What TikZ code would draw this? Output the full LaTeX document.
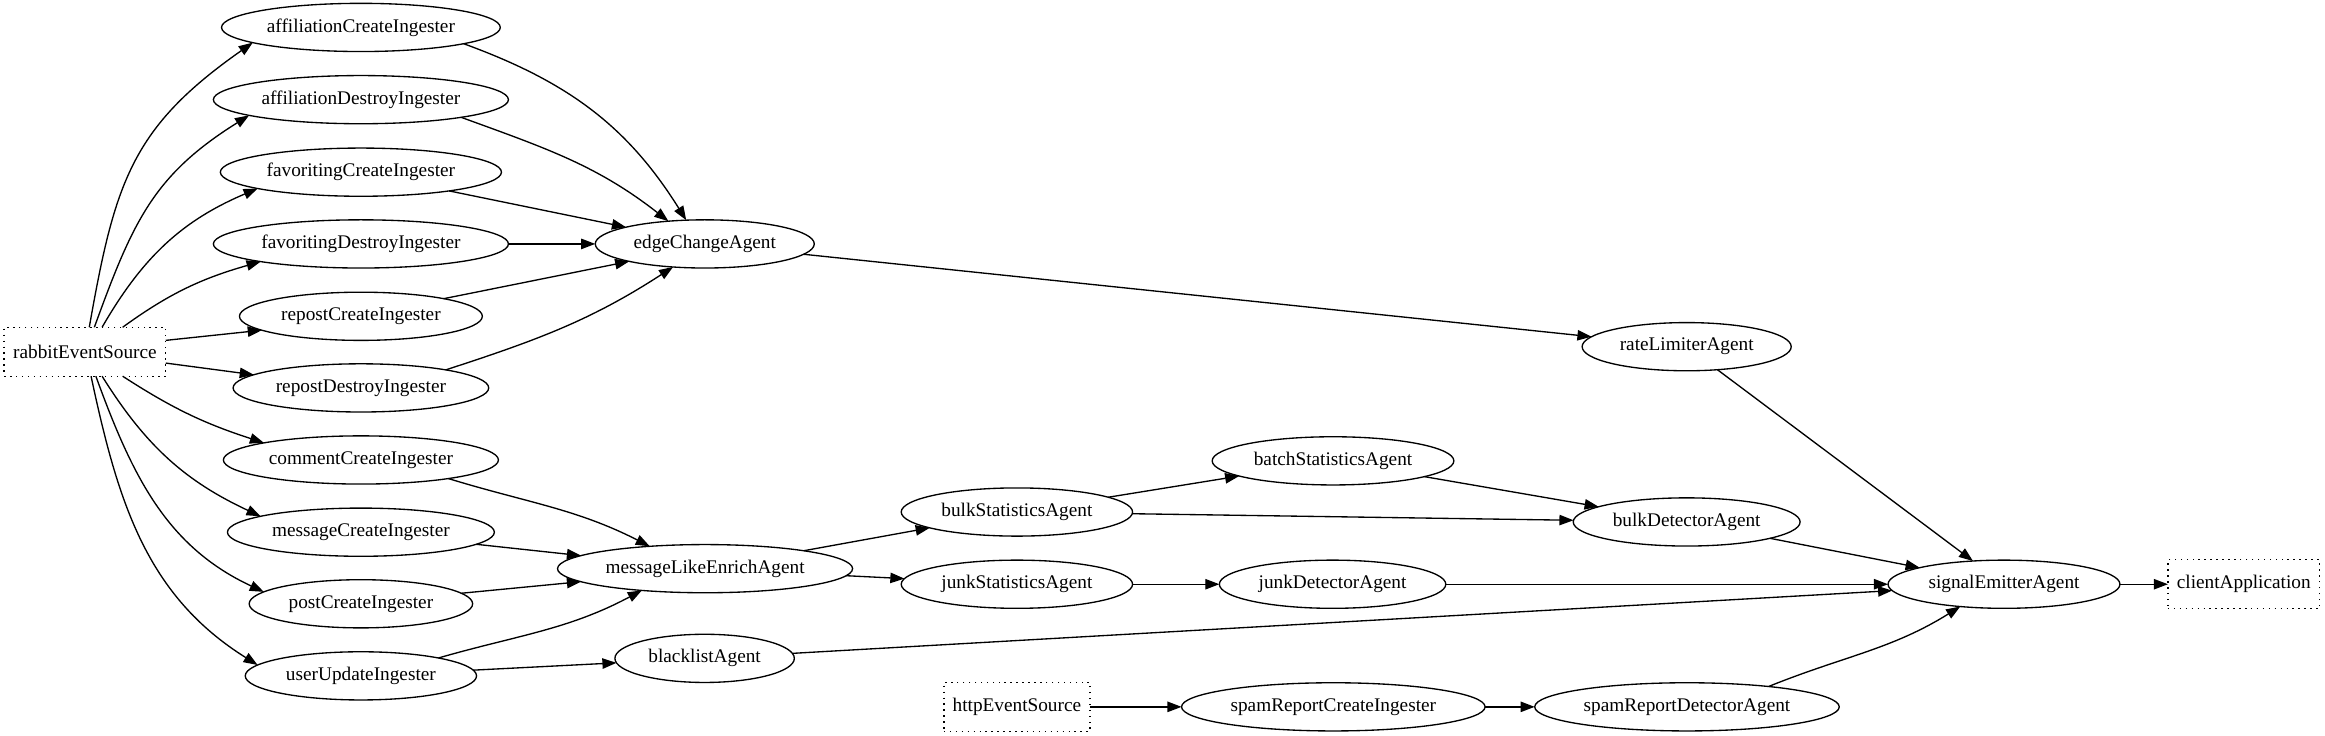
\documentclass[tikz,border=0pt]{standalone}
\usepackage{fontspec}
\setmainfont{Liberation Serif}
\usetikzlibrary{shapes.geometric,arrows.meta}
\begin{document}
\begin{tikzpicture}[x=1pt,y=1pt,
 every node/.style={font=\fontsize{13}{15}\selectfont, inner sep=0pt, outer sep=0pt},
 agent/.style={draw, ellipse, line width=0.9pt, minimum height=32.5pt},
 srcbox/.style={draw, rectangle, line width=0.9pt, dash pattern=on 1pt off 3pt, minimum height=33pt},
 edge/.style={line width=0.9pt, -{Triangle[length=9.5pt,width=7pt]}},
]
\useasboundingbox (0,0) rectangle (1568,-496);

% sources
\node[srcbox, minimum width=109pt] (rabbit) at (57.3,-237.2) {rabbitEventSource};
\node[srcbox, minimum width=98.4pt] (http) at (685.8,-476.7) {httpEventSource};
\node[srcbox, minimum width=102.3pt] (cla) at (1513.2,-394) {clientApplication};

% ingesters
\node[agent, minimum width=188pt] (ace) at (243.4,-18.5) {affiliationCreateIngester};
\node[agent, minimum width=199pt] (ade) at (243.4,-67.2) {affiliationDestroyIngester};
\node[agent, minimum width=189.6pt] (fci) at (243.4,-116.1) {favoritingCreateIngester};
\node[agent, minimum width=199pt] (fdi) at (243.4,-164.5) {favoritingDestroyIngester};
\node[agent, minimum width=163.8pt] (rci) at (243.4,-213.3) {repostCreateIngester};
\node[agent, minimum width=172.4pt] (rdi) at (243.4,-261.6) {repostDestroyIngester};
\node[agent, minimum width=185.5pt] (cci) at (243.4,-310.2) {commentCreateIngester};
\node[agent, minimum width=180pt] (mci) at (243.4,-358.9) {messageCreateIngester};
\node[agent, minimum width=150.7pt] (pci) at (243.4,-407.2) {postCreateIngester};
\node[agent, minimum width=156pt] (uui) at (243.4,-455.8) {userUpdateIngester};

% agents
\node[agent, minimum width=147.7pt] (eca) at (475.3,-164.5) {edgeChangeAgent};
\node[agent, minimum width=199pt] (mle) at (475.5,-383.5) {messageLikeEnrichAgent};
\node[agent, minimum width=121pt] (bla) at (475.2,-444) {blacklistAgent};
\node[agent, minimum width=156pt] (bsa) at (685.8,-345.3) {bulkStatisticsAgent};
\node[agent, minimum width=156pt] (jsa) at (685.8,-394) {junkStatisticsAgent};
\node[agent, minimum width=163pt] (bta) at (899,-310.8) {batchStatisticsAgent};
\node[agent, minimum width=152.7pt] (jda) at (898.7,-394) {junkDetectorAgent};
\node[agent, minimum width=204.7pt] (srci) at (899.2,-476.7) {spamReportCreateIngester};
\node[agent, minimum width=141pt] (rla) at (1137.5,-233.8) {rateLimiterAgent};
\node[agent, minimum width=153pt] (bda) at (1137.5,-352) {bulkDetectorAgent};
\node[agent, minimum width=205.4pt] (srda) at (1137.7,-476.7) {spamReportDetectorAgent};
\node[agent, minimum width=156.4pt] (sea) at (1351.5,-394) {signalEmitterAgent};

% rabbit -> ingesters
\draw[edge] (rabbit.80) to[out=80,in=215,looseness=1.15] (ace.188);
\draw[edge] (rabbit.69) to[out=70,in=212,looseness=1.1] (ade.188);
\draw[edge] (rabbit.55) to[out=60,in=203] (fci.189);
\draw[edge] (rabbit.33) to[out=36,in=196] (fdi.190);
\draw[edge] (rabbit.8) -- (rci.188);
\draw[edge] (rabbit.352) -- (rdi.173);
\draw[edge] (rabbit.327) to[out=-33,in=162] (cci.170);
\draw[edge] (rabbit.305) to[out=-58,in=155] (mci.171);
\draw[edge] (rabbit.294) to[out=-70,in=155] (pci.173);
\draw[edge] (rabbit.284) to[out=-78,in=148] (uui.174);

% ingesters -> edgeChangeAgent
\draw[edge] (ace.351) to[out=-20,in=122] (eca.128);
\draw[edge] (ade.350) to[out=-20,in=142] (eca.148);
\draw[edge] (fci.348) -- (eca.168);
\draw[edge] (fdi) -- (eca);
\draw[edge] (rci.12) -- (eca.193);
\draw[edge] (rdi.12) to[out=18,in=213] (eca.216);

% ingesters -> messageLikeEnrichAgent
\draw[edge] (cci.348) to[out=-17,in=153] (mle.158);
\draw[edge] (mci.354) -- (mle.174);
\draw[edge] (pci.6) -- (mle.186);
\draw[edge] (uui.13) to[out=16,in=208] (mle.199);
\draw[edge] (uui) -- (bla);

% rest
\draw[edge] (eca) -- (rla);
\draw[edge] (mle) -- (bsa);
\draw[edge] (mle) -- (jsa);
\draw[edge] (bsa) -- (bta);
\draw[edge] (bsa) -- (bda);
\draw[edge] (bta) -- (bda);
\draw[edge] (jsa) -- (jda);
\draw[edge] (jda) -- (sea);
\draw[edge] (bla) -- (sea);
\draw[edge] (rla) -- (sea);
\draw[edge] (bda) -- (sea);
\draw[edge] (srda.14) to[out=22,in=212] (sea.207);
\draw[edge] (sea) -- (cla);
\draw[edge] (http) -- (srci);
\draw[edge] (srci) -- (srda);
\end{tikzpicture}
\end{document}
